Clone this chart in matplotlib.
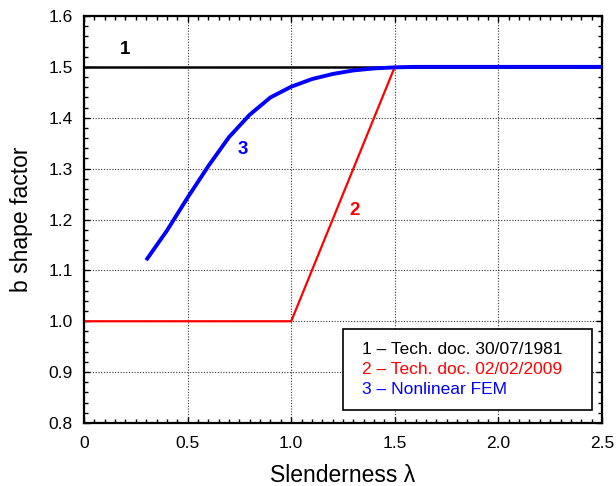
import matplotlib
matplotlib.use("Agg")
import matplotlib.pyplot as plt
from matplotlib.ticker import MultipleLocator
from matplotlib.patches import Rectangle

plt.rcParams['font.family'] = ['Liberation Sans', 'DejaVu Sans']

# Data
x1 = [0.0, 2.5]
y1 = [1.5, 1.5]
x2 = [0.0, 1.0, 1.5, 2.5]
y2 = [1.0, 1.0, 1.5, 1.5]
x3 = [0.3, 0.4, 0.5, 0.6, 0.7, 0.8, 0.9, 1.0, 1.1, 1.2, 1.3, 1.4, 1.5, 1.6, 2.5]
y3 = [1.12, 1.178, 1.243, 1.305, 1.362, 1.406, 1.44, 1.461, 1.476, 1.486, 1.493, 1.497, 1.499, 1.5, 1.5]
xticks = [0, 0.5, 1.0, 1.5, 2.0, 2.5]
xticklabels = ['0', '0.5', '1.0', '1.5', '2.0', '2.5']
yticks = [0.8, 0.9, 1.0, 1.1, 1.2, 1.3, 1.4, 1.5, 1.6]
yticklabels = ['0.8', '0.9', '1.0', '1.1', '1.2', '1.3', '1.4', '1.5', '1.6']
legend_lines = ["1 \u2013 Tech. doc. 30/07/1981", "2 \u2013 Tech. doc. 02/02/2009", "3 \u2013 Nonlinear FEM"]
colors = ['black', 'red', 'blue']

fig = plt.figure(figsize=(6.16, 4.86), dpi=100)
ax = fig.add_axes([84/616, 1-423/486, 518/616, 407/486])

ax.plot(x2, y2, color='red', lw=1.6, zorder=2, clip_on=False)
ax.plot(x1, y1, color='black', lw=1.8, zorder=3)
ax.plot(x3, y3, color='blue', lw=2.8, zorder=4, solid_capstyle='butt')

ax.set_xlim(0, 2.5)
ax.set_ylim(0.8, 1.6)
ax.xaxis.set_minor_locator(MultipleLocator(0.05))
ax.yaxis.set_minor_locator(MultipleLocator(0.02))
ax.set_xticks(xticks)
ax.set_xticklabels(xticklabels)
ax.set_yticks(yticks)
ax.set_yticklabels(yticklabels)
ax.tick_params(which='both', direction='in', top=True, right=True, labelsize=12.5)
ax.tick_params(which='major', length=4, width=1)
ax.tick_params(which='minor', length=3, width=1)
ax.tick_params(axis='x', pad=9)
ax.tick_params(axis='y', pad=8)
for s in ax.spines.values():
    s.set_linewidth(1.6)
ax.grid(True, which='major', linestyle=(0, (1, 1.5)), color='black', lw=0.8, alpha=0.8)

ax.set_xlabel("Slenderness \u03bb", fontsize=16.5, labelpad=10)
ax.set_ylabel("b shape factor", fontsize=16.5, labelpad=11)

ax.text(0.2, 1.535, "1", color='black', fontsize=13.5, fontweight='bold', ha='center', va='center')
ax.text(0.767, 1.337, "3", color='blue', fontsize=13.5, fontweight='bold', ha='center', va='center')
ax.text(1.305, 1.218, "2", color='red', fontsize=13.5, fontweight='bold', ha='center', va='center')

rect = Rectangle((343, 486-410), 249, 81, transform=None, fill=True, facecolor='white',
                 edgecolor='black', lw=1.2, zorder=5)
fig.patches.append(rect)
for i, (t, c) in enumerate(zip(legend_lines, colors)):
    fig.text(362/616, 1-(349 + i*20)/486, t, color=c, fontsize=12.5, ha='left', va='center', zorder=6)

fig.savefig("out.png", dpi=100)
